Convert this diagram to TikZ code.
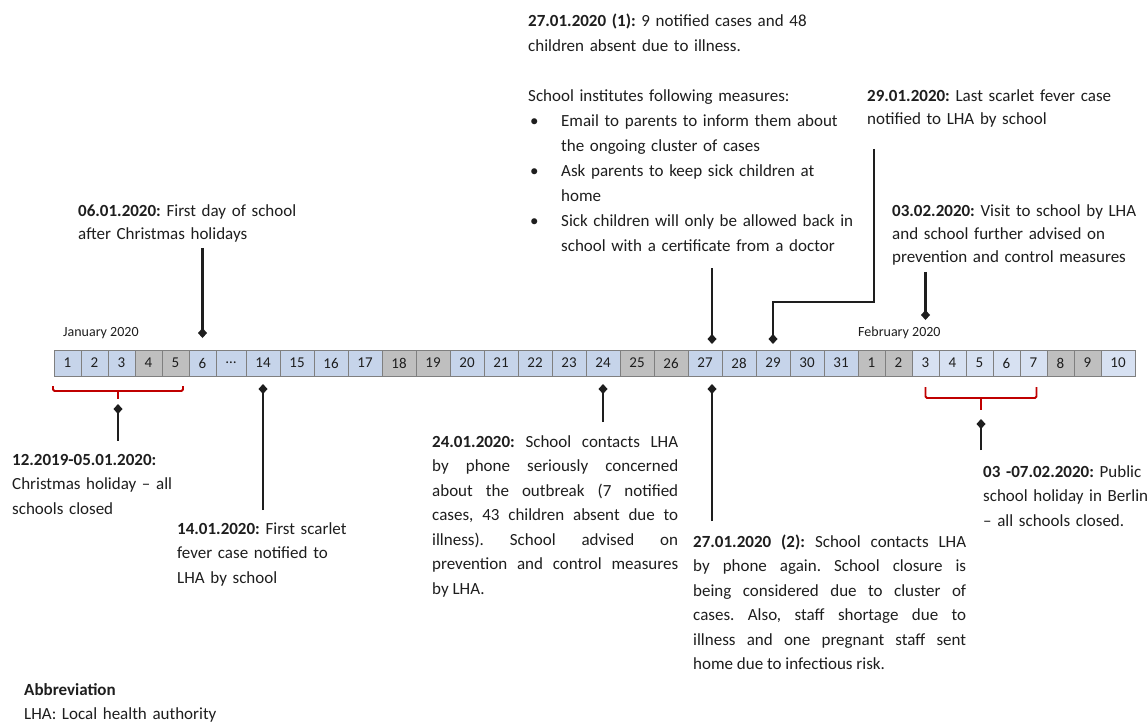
\documentclass[tikz,border=0pt]{standalone}
\usepackage{fontspec}
\setmainfont{Carlito}
\frenchspacing
\usetikzlibrary{positioning,arrows.meta,calc}

\definecolor{dayblue}{HTML}{C6D4EA}
\definecolor{febblue}{HTML}{D7E1F2}
\definecolor{daygrey}{HTML}{BFBFBF}
\definecolor{cellline}{HTML}{7F7F7F}
\definecolor{holred}{HTML}{C00000}
\definecolor{txt}{HTML}{1E1E1E}

\tikzset{
  daycell/.style={draw=cellline, line width=0.9pt, minimum height=26pt, inner sep=0pt, outer sep=0pt, text=txt, font=\fontsize{15}{17}\selectfont},
  note/.style={anchor=base west, inner sep=0pt, align=left, text=txt, font=\fontsize{17}{24.5}\selectfont},
  month/.style={anchor=base west, inner sep=0pt, text=txt, font=\fontsize{14}{16}\selectfont},
  evarrow/.style={line width=2.6pt, draw=txt, -{Diamond[length=10pt,width=9pt]}},
  holbracket/.style={draw=holred, line width=1.8pt, rounded corners=1.5pt},
}
\newcommand{\fillline}[1]{\makebox[\hsize][s]{#1}}
\newcommand{\bitem}{\makebox[33pt][l]{\hspace{2pt}\textbullet}}
\newcommand{\bcont}{\hspace*{33pt}}

\begin{document}
\begin{tikzpicture}[x=1pt, y=-1pt]
\useasboundingbox[fill=white] (0,0) rectangle (1148,723);

% day cells
\coordinate (j0) at (54,363);
\foreach \n/\d/\w/\c [remember=\n as \prev (initially j0)] in {
  j1/1/27/dayblue, j2/2/27/dayblue, j3/3/27/dayblue, j4/4/27/daygrey, j5/5/27/daygrey,
  j6/6/27/dayblue, jdots/{\ldots}/30/dayblue,
  j14/14/34/dayblue, j15/15/34/dayblue, j16/16/34/dayblue, j17/17/34/dayblue,
  j18/18/34/daygrey, j19/19/34/daygrey, j20/20/34/dayblue, j21/21/34/dayblue,
  j22/22/34/dayblue, j23/23/34/dayblue, j24/24/34/dayblue, j25/25/34/daygrey,
  j26/26/34/daygrey, j27/27/34/dayblue, j28/28/34/dayblue, j29/29/34/dayblue,
  j30/30/34/dayblue, j31/31/34/dayblue,
  f1/1/27/daygrey, f2/2/27/daygrey, f3/3/27/febblue, f4/4/27/febblue, f5/5/27/febblue,
  f6/6/27/febblue, f7/7/27/febblue, f8/8/27/daygrey, f9/9/27/daygrey, f10/10/34/febblue}
  \node[daycell, fill=\c, minimum width=\w, right=0pt of \prev] (\n) {\d};

\node[month] (jan) at (63,336) {January 2020};
\node[month] (feb) at (858,336) {February 2020};

% notes above
\node[note, text width=330pt, font=\fontsize{17}{25}\selectfont] (t2701a) at (528,26)
  {\textbf{27.01.2020 (1):} 9 notified cases and 48\\
   children absent due to illness.\\[25pt]
   School institutes following measures:\\
   \bitem Email to parents to inform them about\\
   \bcont the ongoing cluster of cases\\
   \bitem Ask parents to keep sick children at\\
   \bcont home\\
   \bitem Sick children will only be allowed back in\\
   \bcont school with a certificate from a doctor};
\node[note, text width=270pt, font=\fontsize{17}{23}\selectfont] (t2901) at (867,101)
  {\textbf{29.01.2020:} Last scarlet fever case\\ notified to LHA by school};
\node[note, text width=240pt, font=\fontsize{17}{23}\selectfont] (t0601) at (78,216)
  {\textbf{06.01.2020:} First day of school\\ after Christmas holidays};
\node[note, text width=270pt, font=\fontsize{17}{23}\selectfont] (t0302) at (892,216)
  {\textbf{03.02.2020:} Visit to school by LHA\\ and school further advised on\\
   prevention and control measures};

% notes below
\node[note, text width=180pt] (thol1) at (12,465)
  {\textbf{12.2019-05.01.2020:}\\ Christmas holiday -- all\\ schools closed};
\node[note, text width=190pt] (t1401) at (177,534)
  {\textbf{14.01.2020:} First scarlet\\ fever case notified to\\ LHA by school};
\node[note, align=justify, text width=246pt] (t2401) at (432,447)
  {\fillline{\textbf{24.01.2020:} School contacts LHA}\\
   \fillline{by phone seriously concerned}\\
   \fillline{about the outbreak (7 notified}\\
   \fillline{cases, 43 children absent due to}\\
   \fillline{illness). School advised on}\\
   \fillline{prevention and control measures}\\
   by LHA.};
\node[note, align=justify, text width=273pt] (t2702) at (693,547)
  {\fillline{\textbf{27.01.2020 (2):} School contacts LHA}\\
   \fillline{by phone again. School closure is}\\
   \fillline{being considered due to cluster of}\\
   \fillline{cases. Also, staff shortage due to}\\
   \fillline{illness and one pregnant staff sent}\\
   home due to infectious risk.};
\node[note, text width=200pt] (thol2) at (983,477)
  {\textbf{03 -07.02.2020:} Public\\ school holiday in Berlin\\ -- all schools closed.};
\node[note, text width=260pt] (tabbr) at (24,695)
  {\textbf{Abbreviation}\\ LHA: Local health authority};

% holiday brackets
\coordinate (hb1l) at ([xshift=-1pt,yshift=-10pt]j1.south west);
\coordinate (hb1r) at ([xshift=-6pt,yshift=-10pt]j5.south east);
\draw[holbracket] (hb1l) -- ++(0,5) -- ($(hb1r)+(0,5)$) -- (hb1r);
\draw[holbracket] ($(hb1l)!0.5!(hb1r)+(0,5)$) -- ++(0,8) coordinate (hol1);
\coordinate (hb2l) at ([yshift=-11pt]f3.south);
\coordinate (hb2r) at ([xshift=3pt,yshift=-11pt]f7.south);
\draw[holbracket] (hb2l) -- ++(0,11) -- ($(hb2r)+(0,11)$) -- (hb2r);
\draw[holbracket] ($(hb2l)!0.5!(hb2r)+(0,11)$) -- ++(0,12) coordinate (hol2);

% arrows from above
\draw[evarrow] ([yshift=-6pt]t0601.south -| j6) -- ([yshift=12pt]j6.north);
\draw[evarrow] ([xshift=7pt,yshift=-17pt]t2701a.south -| j27) -- ([xshift=7pt,yshift=6pt]j27.north);
\draw[evarrow] ([xshift=7pt,yshift=-22pt]t2901.south west) |- ($(j29.north)+(0,-48)$) -- ([yshift=6pt]j29.north);
\draw[evarrow] ([yshift=-7pt]t0302.south -| f3) -- ([yshift=30pt]f3.north);

% arrows from below
\draw[evarrow] ([yshift=12pt]t1401.north -| j14) -- ([yshift=-8pt]j14.south);
\draw[evarrow] ([yshift=13pt]t2401.north -| j24) -- ([yshift=-8pt]j24.south);
\draw[evarrow] ([xshift=7pt,yshift=13pt]t2702.north -| j27) -- ([xshift=7pt,yshift=-8pt]j27.south);
\draw[evarrow] ([yshift=13pt]thol1.north -| hol1) -- ([yshift=-5pt]hol1);
\draw[evarrow] ([yshift=15pt]thol2.north -| hol2) -- ([yshift=-9pt]hol2);
\end{tikzpicture}
\end{document}
